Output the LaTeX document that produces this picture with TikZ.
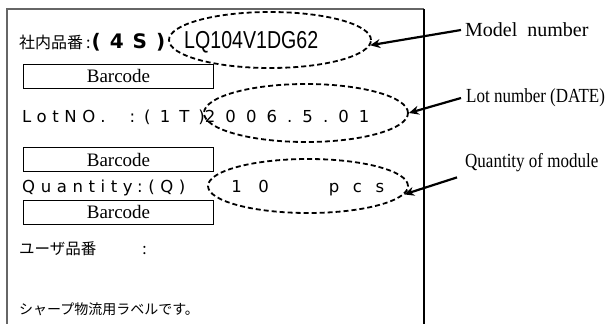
\documentclass[tikz,border=0pt]{standalone}
\usepackage{fontspec}
\usetikzlibrary{positioning, arrows.meta, shapes.geometric}
\newfontfamily\jpfont{Noto Sans CJK JP}
\newfontfamily\codefont{Liberation Sans}[FakeStretch=0.8]
\newfontfamily\spacedfont{DejaVu Sans}[LetterSpace=34]
\newfontfamily\notefont{Liberation Serif}
\newfontfamily\narrowfont{Liberation Serif}[FakeStretch=0.85]
\tikzset{
		barcode box/.style={
			rectangle,
			draw=black,
			line width=1pt,
			minimum width=190pt,
			minimum height=24pt,
			inner sep=0pt,
			anchor=north west,
			font=\notefont\fontsize{19}{22}\selectfont
		},
		ring/.style={
			ellipse,
			draw=black,
			line width=1.8pt,
			dash pattern=on 5pt off 3pt,
			inner sep=0pt
		},
		note/.style={anchor=west, inner sep=0pt, font=\notefont\fontsize{20}{24}\selectfont},
		narrow note/.style={note, font=\narrowfont\fontsize{20}{24}\selectfont},
		field/.style={anchor=base west, inner sep=0pt},
		pointer/.style={line width=2.2pt, -{Stealth[length=10pt, width=9pt]}}
	}
\begin{document}
\begin{tikzpicture}[x=1pt, y=-1pt]
		\useasboundingbox (0,0) rectangle (614,324);
		% label frame
		\draw[black!60, line width=1.2pt] (7,324) -- (7,9) -- (424,9);
		\draw[line width=1.2pt] (424,9) -- (424,324);

		% dashed rings
		\node[ring, minimum width=202pt, minimum height=56pt] (modelring) at (270,40) {};
		\node[ring, minimum width=204pt, minimum height=58pt] (lotring) at (306,113) {};
		\node[ring, minimum width=200pt, minimum height=54pt] (qtyring) at (308,186) {};

		% label fields
		\node[field] (modelfield) at (19,48)
			{\jpfont\fontsize{16}{19}\selectfont 社内品番\hspace*{3pt}:\hspace*{1pt}{\spacedfont\bfseries\fontsize{20}{24}\selectfont\addfontfeatures{LetterSpace=45}(4S)}\hspace*{19pt}\codefont\fontsize{24.5}{28}\selectfont LQ104V1DG62};
		\node[barcode box] (modelcode) at (23,64) {Barcode};
		\node[field] (lotfield) at (22,122)
			{\spacedfont\fontsize{16.5}{19}\selectfont LotNO.\hspace*{24pt}\addfontfeatures{LetterSpace=55}:(1T)\addfontfeatures{LetterSpace=61}2006.5.01};
		\node[barcode box] (lotcode) at (23,147) {Barcode};
		\node[field] (qtyfield) at (22,192)
			{\spacedfont\fontsize{16.5}{19}\selectfont Quantity:(Q)\hspace*{46pt}\addfontfeatures{LetterSpace=100}10\hspace*{60pt}\addfontfeatures{LetterSpace=82}pcs};
		\node[barcode box] (qtycode) at (23,200) {Barcode};
		\node[field] (userfield) at (19,254) {\jpfont\fontsize{15.5}{18}\selectfont ユーザ品番\hspace*{46pt}:};
		\node[field] (shipfield) at (19,314) {\jpfont\fontsize{14}{17}\selectfont シャープ物流用ラベルです。};

		% notes
		\node[note] (modelnote) at (465,30) {Model~ number};
		\node[narrow note] (lotnote) at (466,98) {Lot number (DATE)};
		\node[narrow note] (qtynote) at (465,163) {Quantity of module};

		%arrows:
		\draw[pointer] ([xshift=-4pt]modelnote.west) -- (modelring.-3);
		\draw[pointer] ([xshift=-5pt]lotnote.west) -- (lotring.east);
		\draw[pointer] ([shift={(-8pt,-5pt)}]qtynote.south west) -- (qtyring.-5);

	\end{tikzpicture}
\end{document}
